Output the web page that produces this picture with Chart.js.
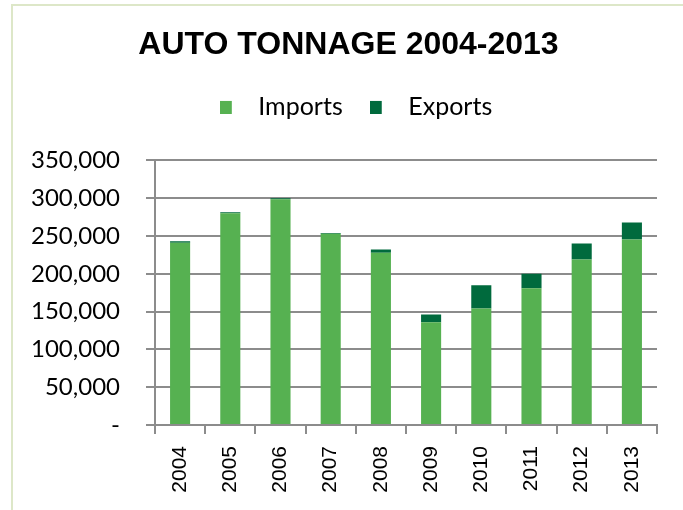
<!DOCTYPE html>
<html>
<head>
<meta charset="utf-8">
<title>Auto tonnage</title>
<script src="https://cdn.jsdelivr.net/npm/chart.js@4/dist/chart.umd.min.js"></script>
<style>
  html, body { margin: 0; padding: 0; background: #fff; overflow: hidden; }
  #frame { position: absolute; left: 11px; top: 4px; width: 700px; height: 540px; border: 2px solid #dde7c8; }
  #myChart { position: absolute; left: 0; top: 0; }
</style>
</head>
<body>
<div id="frame"></div>
<canvas id="myChart" width="683" height="510"></canvas>
<script>
var years = ['2004', '2005', '2006', '2007', '2008', '2009', '2010', '2011', '2012', '2013'];
var imports = [241000, 280000, 298500, 253000, 228000, 136000, 154000, 181000, 219000, 245500];
var exports = [2000, 1500, 1500, 1000, 4000, 10000, 31000, 19000, 21000, 22500];
var yTicks = [0, 50000, 100000, 150000, 200000, 250000, 300000, 350000];

var gridGray = '#8c8c8c';

// little square swatch, padded on the right so the label sits further out
function swatch(color) {
  var c = document.createElement('canvas');
  c.width = 26;
  c.height = 14;
  var g = c.getContext('2d');
  g.fillStyle = color;
  g.fillRect(0, 1, 12, 13);
  return c;
}

// room under the legend, and title/legend nudged right of the plot centre
var headerTweaks = {
  id: 'headerTweaks',
  beforeInit: function(chart) {
    var fit = chart.legend.fit;
    chart.legend.fit = function() {
      fit.call(this);
      this.height += 31;
    };
  },
  afterLayout: function(chart) {
    chart.titleBlock.left += 40;
    chart.legend.left += 55;
  }
};

var ctx = document.getElementById('myChart').getContext('2d');
var myChart = new Chart(ctx, {
  type: 'bar',
  data: {
    labels: years,
    datasets: [{
      label: 'Imports',
      data: imports,
      backgroundColor: '#56b151',
      categoryPercentage: 1,
      barPercentage: 0.4
    }, {
      label: 'Exports',
      data: exports,
      backgroundColor: '#006a3d',
      categoryPercentage: 1,
      barPercentage: 0.4
    }]
  },
  options: {
    responsive: false,
    animation: false,
    devicePixelRatio: 1,
    layout: {padding: {left: 0, right: 26, top: 0, bottom: 0}},
    plugins: {
      title: {
        display: true,
        text: 'AUTO TONNAGE 2004-2013',
        color: '#000',
        font: {family: '"Liberation Sans", Arial, sans-serif', size: 32, weight: 'bold'},
        padding: {top: 26, bottom: 3}
      },
      legend: {
        position: 'top',
        labels: {
          color: '#000',
          font: {family: 'Lato, sans-serif', size: 25},
          usePointStyle: true,
          pointStyleWidth: 26,
          padding: 27,
          generateLabels: function(chart) {
            var items = Chart.defaults.plugins.legend.labels.generateLabels(chart);
            items.forEach(function(item) {
              item.pointStyle = swatch(chart.data.datasets[item.datasetIndex].backgroundColor);
            });
            return items;
          }
        }
      },
      tooltip: {enabled: false}
    },
    scales: {
      x: {
        stacked: true,
        grid: {drawOnChartArea: false, color: gridGray, lineWidth: 2, tickLength: 9},
        border: {color: gridGray, width: 2},
        ticks: {
          color: '#000',
          font: {family: '"Liberation Sans", Arial, sans-serif', size: 21},
          minRotation: 90,
          maxRotation: 90,
          padding: 12
        },
        afterFit: function(scale) { scale.height = 85; }
      },
      y: {
        stacked: true,
        min: 0,
        max: 350000,
        grid: {color: gridGray, lineWidth: 2, tickLength: 9},
        border: {color: gridGray, width: 2},
        afterBuildTicks: function(scale) {
          scale.ticks = yTicks.map(function(v) { return {value: v}; });
        },
        ticks: {
          color: '#000',
          font: {family: 'Lato, sans-serif', size: 24},
          padding: 26,
          callback: function(v) { return v === 0 ? '-' : v.toLocaleString('en-US'); }
        },
        afterFit: function(scale) { scale.width = 155; }
      }
    }
  },
  plugins: [headerTweaks]
});
</script>
</body>
</html>
